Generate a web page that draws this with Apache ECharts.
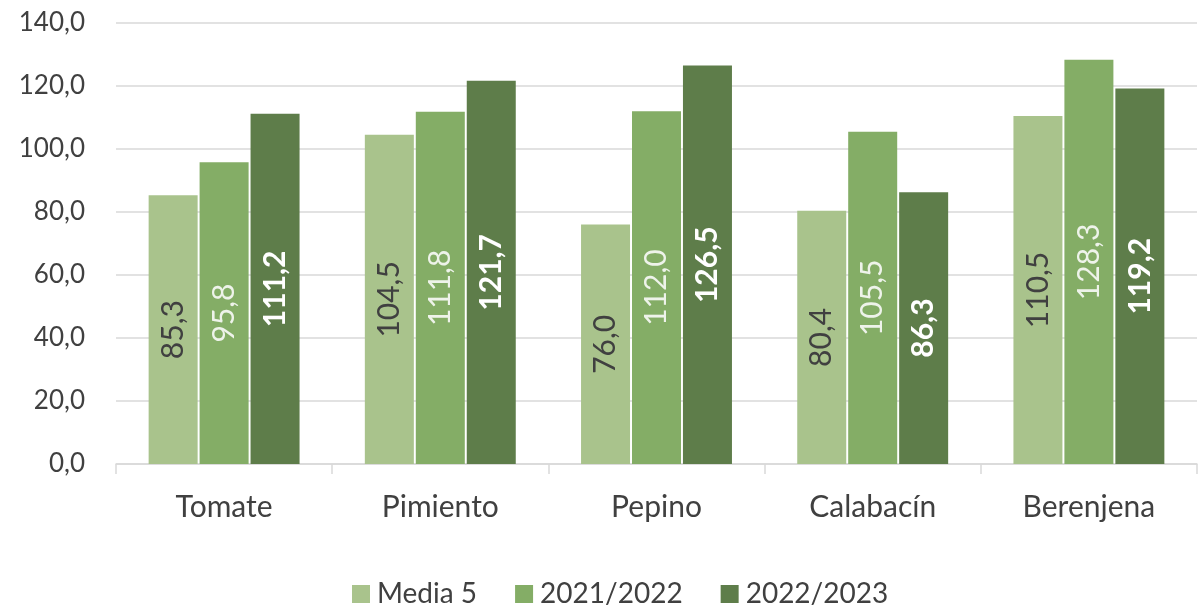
<!DOCTYPE html>
<html>
<head>
<meta charset="utf-8">
<script src="https://cdn.jsdelivr.net/npm/echarts@6/dist/echarts.min.js"></script>
<style>
html,body{margin:0;padding:0;background:#fff;}
#chart{width:1199px;height:612px;}
</style>
</head>
<body>
<div id="chart"></div>
<script>
var categories = ['Tomate', 'Pimiento', 'Pepino', 'Calabacín', 'Berenjena'];
var seriesNames = ['Media 5', '2021/2022', '2022/2023'];
var media5 = [85.3, 104.5, 76.0, 80.4, 110.5];
var campana2122 = [95.8, 111.8, 112.0, 105.5, 128.3];
var campana2223 = [111.2, 121.7, 126.5, 86.3, 119.2];

var colors = ['#a9c38c', '#84ad66', '#5e7d4a'];
var labelColors = ['#404040', '#eef3ea', '#ffffff'];
var FONT = 'Lato';

//formato con coma decimal
function fmt(v){
	return Number(v).toFixed(1).replace('.', ',');
}

function makeSeries(i, data){
	return {
		name: seriesNames[i],
		type: 'bar',
		data: data,
		barWidth: 49,
		barGap: '4%',
		itemStyle: {color: colors[i]},
		label: {
			show: true,
			position: 'inside',
			rotate: 90,
			fontFamily: FONT,
			fontSize: 30,
			fontWeight: i == 2 ? 'bold' : 'normal',
			color: labelColors[i],
			formatter: function(p){ return fmt(p.value); }
		}
	};
}

var chart = echarts.init(document.getElementById('chart'));
var option = {
	backgroundColor: '#ffffff',
	animation: false,
	grid: {left: 116, right: 2, top: 23, bottom: 148, containLabel: false},
	legend: {
		data: seriesNames,
		top: 580,
		left: 352,
		padding: 0,
		icon: 'rect',
		itemWidth: 18,
		itemHeight: 18,
		itemGap: 38,
		textStyle: {fontFamily: FONT, fontSize: 28, color: '#404040', padding: [0, 0, 0, 2]}
	},
	xAxis: {
		type: 'category',
		data: categories,
		axisLine: {lineStyle: {color: '#d9d9d9', width: 1.5}},
		axisTick: {show: true, length: 10, lineStyle: {color: '#d9d9d9', width: 1.5}},
		axisLabel: {fontFamily: FONT, fontSize: 30, color: '#404040', margin: 28}
	},
	yAxis: {
		type: 'value',
		min: 0,
		max: 140,
		interval: 20,
		axisLine: {show: false},
		axisTick: {show: false},
		splitLine: {lineStyle: {color: '#d9d9d9', width: 1.5}},
		axisLabel: {fontFamily: FONT, fontSize: 26, color: '#404040', margin: 31, formatter: fmt}
	},
	series: [
		makeSeries(0, media5),
		makeSeries(1, campana2122),
		makeSeries(2, campana2223)
	]
};
chart.setOption(option);
</script>
</body>
</html>
